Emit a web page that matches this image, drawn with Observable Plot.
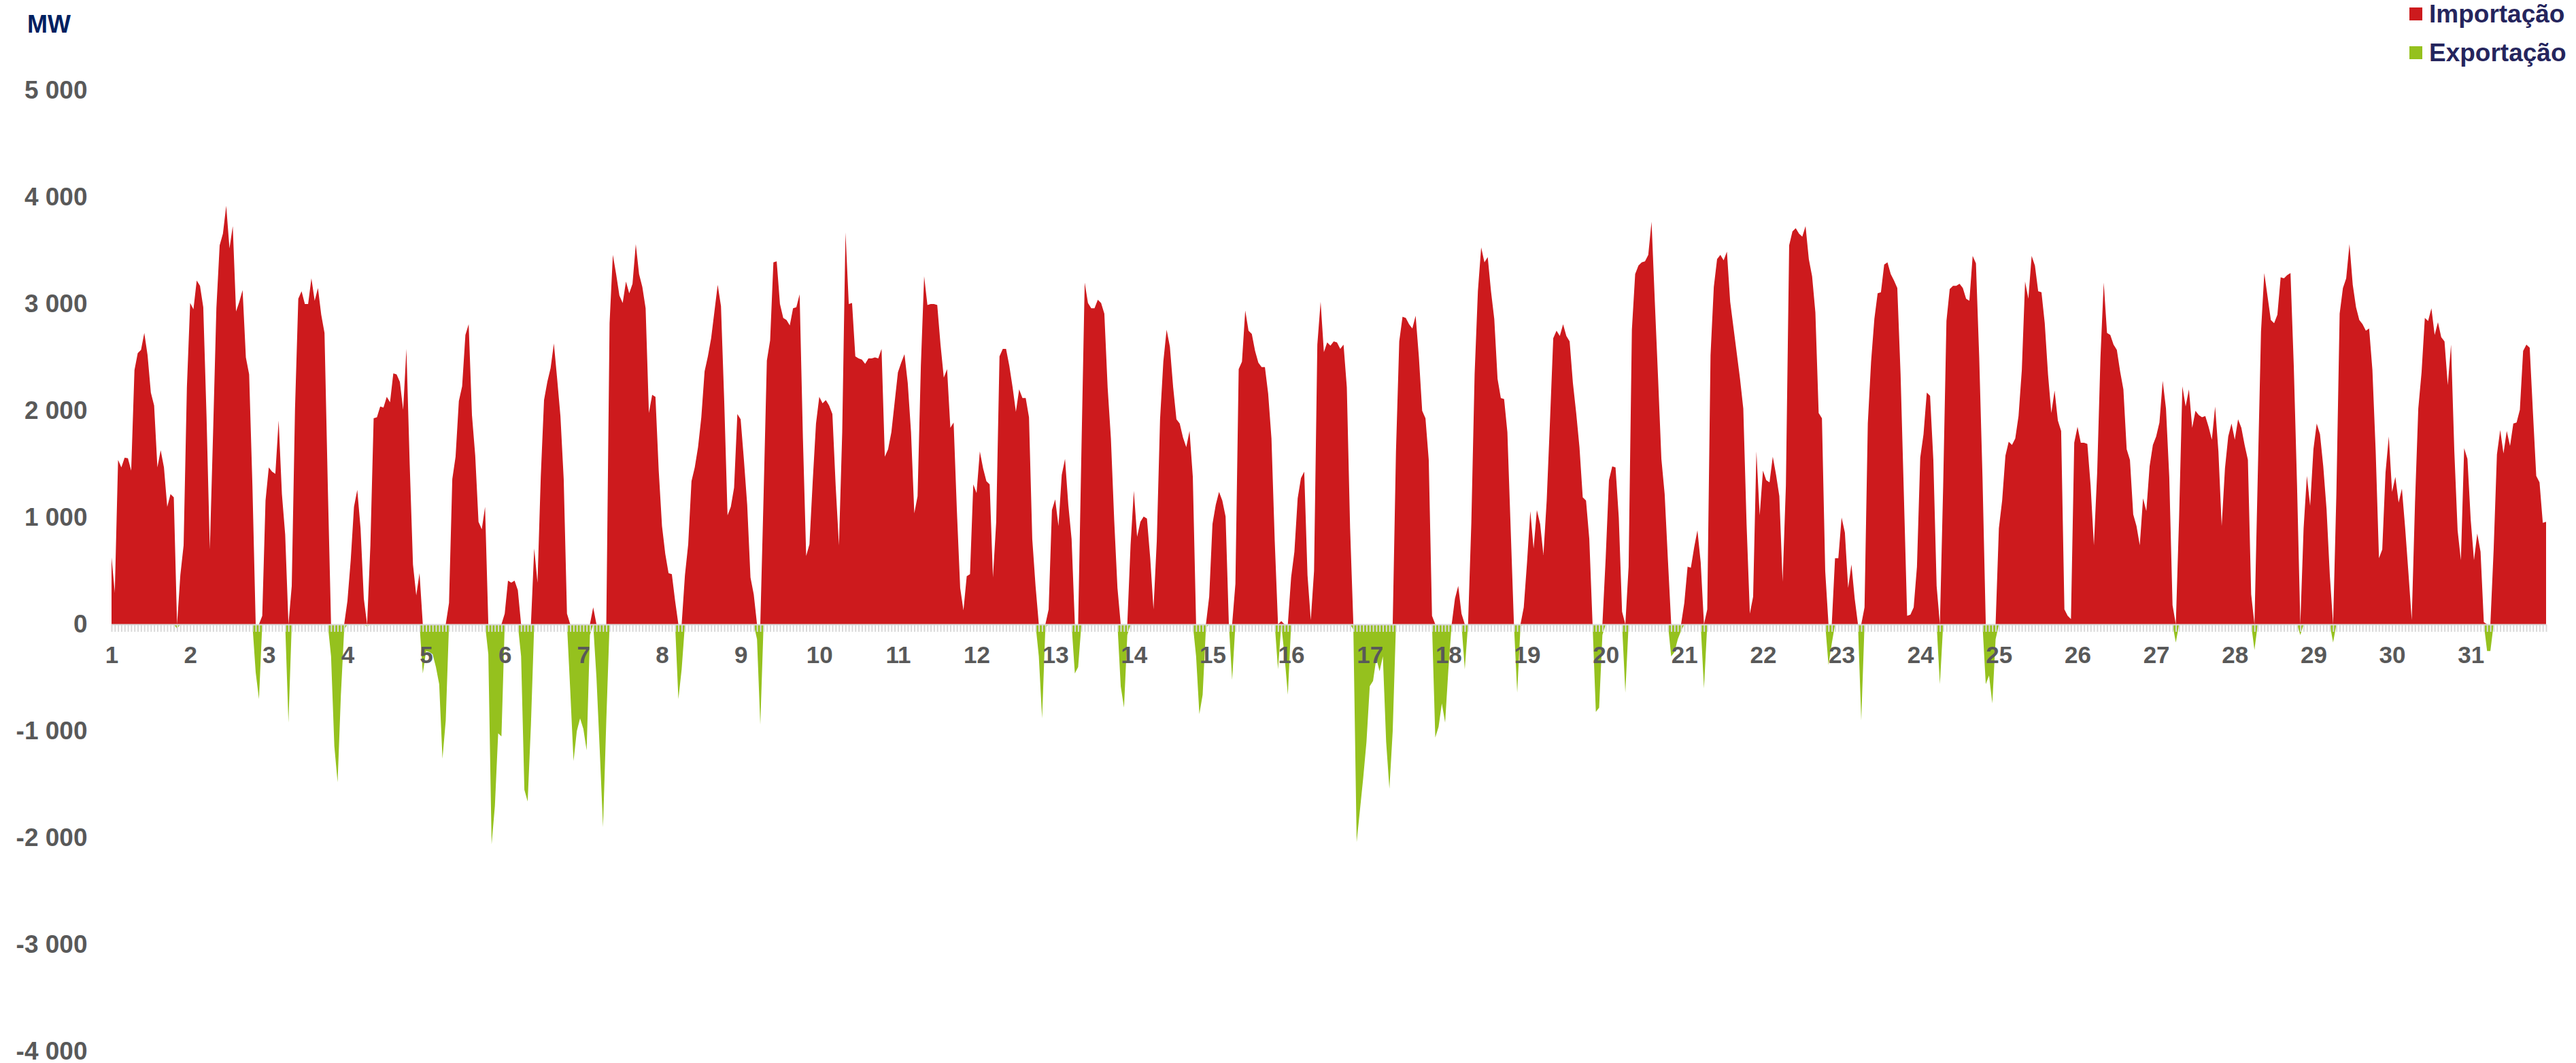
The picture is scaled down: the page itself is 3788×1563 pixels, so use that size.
<!DOCTYPE html>
<html>
<head>
<meta charset="utf-8">
<script src="https://cdn.jsdelivr.net/npm/d3@7"></script>
<script src="https://cdn.jsdelivr.net/npm/@observablehq/plot@0.6"></script>
<style>
  html, body { margin: 0; padding: 0; background: #ffffff; overflow: hidden; }
  #wrap { position: relative; width: 3788px; height: 1563px; font-family: "Liberation Sans", Arial, sans-serif; font-weight: bold; }
  #header { position: relative; width: 3788px; height: 100px; }
  .mw { position: absolute; left: 40px; top: 18px; font-size: 36px; line-height: 36px; color: #002060; }
  .leg { position: absolute; left: 3543px; font-size: 37px; line-height: 37px; color: #25255d; display: flex; align-items: center; white-space: nowrap; }
  .sw { width: 19px; height: 19px; margin-right: 10px; }
  #chart svg { display: block; }
</style>
</head>
<body>
<div id="wrap">
  <div id="header"></div>
  <div id="chart"></div>
</div>
<script>
// Net hourly interchange (MW): positive = importação, negative = exportação
const day01 = [628, 300, 1540, 1470, 1560, 1556, 1440, 2380, 2540, 2570, 2730, 2520, 2170, 2050, 1470, 1630, 1470, 1100, 1220, 1190, -40, 460, 740, 2220];
const day02 = [3010, 2950, 3220, 3170, 2970, 1940, 700, 1800, 2960, 3550, 3660, 3920, 3520, 3730, 2930, 3020, 3130, 2500, 2340, 1300, -450, -700, 80, 1160];
const day03 = [1470, 1430, 1410, 1910, 1220, 840, -920, 360, 2020, 3050, 3120, 3000, 3000, 3240, 3030, 3150, 2900, 2730, 1300, -300, -1140, -1480, -660, -50];
const day04 = [220, 600, 1100, 1260, 900, 240, -20, 740, 1930, 1940, 2040, 2030, 2130, 2080, 2350, 2340, 2270, 2010, 2580, 1500, 560, 270, 480, -460];
const day05 = [-250, -260, -280, -400, -560, -1260, -900, 200, 1360, 1570, 2090, 2230, 2710, 2810, 1960, 1580, 960, 890, 1100, -280, -2060, -1700, -1020, -1050];
const day06 = [100, 410, 390, 410, 320, -300, -1550, -1660, -940, 710, 390, 1380, 2100, 2270, 2400, 2630, 2300, 1950, 1360, 100, -620, -1280, -1000, -880];
const day07 = [-980, -1180, -100, 160, -500, -1180, -1900, -900, 2820, 3460, 3280, 3080, 3010, 3210, 3100, 3190, 3560, 3280, 3160, 2960, 1980, 2150, 2130, 1440];
const day08 = [920, 660, 480, 470, 220, -700, -420, 460, 750, 1340, 1470, 1660, 1940, 2370, 2510, 2680, 2930, 3180, 2980, 2080, 1020, 1100, 1280, 1970];
const day09 = [1920, 1540, 1120, 440, 280, -140, -940, 1200, 2470, 2660, 3390, 3400, 3000, 2870, 2850, 2800, 2960, 2970, 3090, 1750, 640, 750, 1340, 1880];
const day10 = [2130, 2070, 2100, 2050, 1970, 1300, 740, 1800, 3670, 3000, 3010, 2510, 2490, 2480, 2440, 2490, 2490, 2500, 2490, 2580, 1570, 1640, 1800, 2080];
const day11 = [2360, 2450, 2530, 2260, 1800, 1040, 1200, 2420, 3260, 2990, 3000, 3000, 2990, 2620, 2310, 2390, 1840, 1890, 1060, 340, 130, 450, 470, 1310];
const day12 = [1230, 1620, 1460, 1340, 1310, 440, 960, 2510, 2580, 2580, 2420, 2220, 1990, 2200, 2120, 2120, 1940, 800, 360, -300, -880, -30, 140, 1070];
const day13 = [1170, 920, 1400, 1550, 1120, 800, -460, -400, 1620, 3200, 3010, 2960, 2960, 3040, 3010, 2910, 2220, 1740, 980, 340, -580, -780, -100, 740];
const day14 = [1250, 820, 960, 1010, 990, 620, 140, 780, 1920, 2460, 2760, 2600, 2220, 1920, 1880, 1750, 1660, 1810, 1380, -300, -840, -660, -30, 260];
const day15 = [940, 1120, 1240, 1160, 1010, 0, -520, 380, 2390, 2460, 2940, 2750, 2720, 2560, 2450, 2410, 2410, 2160, 1740, 780, -420, 30, -300, -660];
const day16 = [440, 680, 1180, 1370, 1430, 460, 40, 500, 2620, 3020, 2550, 2640, 2610, 2650, 2640, 2580, 2620, 2220, 900, -50, -2040, -1740, -1440, -1100];
const day17 = [-580, -530, -320, -440, -300, -1100, -1540, -1000, 1620, 2650, 2880, 2870, 2810, 2770, 2890, 2500, 2000, 1930, 1540, 80, -1060, -960, -740, -920];
const day18 = [-420, 0, 240, 360, 100, -420, 0, 950, 2340, 3120, 3530, 3390, 3440, 3120, 2860, 2300, 2120, 2110, 1800, 900, 0, -640, -20, 160];
const day19 = [580, 1060, 710, 1070, 940, 650, 1160, 1900, 2680, 2750, 2700, 2810, 2700, 2650, 2260, 1980, 1660, 1190, 1160, 800, 0, -820, -780, -100];
const day20 = [620, 1350, 1480, 1470, 1000, 120, -640, 540, 2760, 3280, 3360, 3390, 3400, 3460, 3770, 3020, 2300, 1550, 1220, 600, -300, -260, -140, -60];
const day21 = [200, 540, 530, 720, 880, 580, -600, 140, 2520, 3160, 3420, 3460, 3410, 3490, 3020, 2780, 2540, 2300, 2020, 940, 100, 260, 1620, 1020];
const day22 = [1440, 1350, 1330, 1570, 1400, 1200, 400, 1300, 3550, 3680, 3710, 3660, 3630, 3730, 3420, 3260, 2920, 1980, 1930, 500, -380, -180, 620, 620];
const day23 = [1000, 860, 340, 560, 240, 0, -900, 160, 1880, 2460, 2860, 3100, 3110, 3370, 3390, 3280, 3220, 3150, 2340, 1220, 80, 90, 160, 540];
const day24 = [1560, 1780, 2170, 2140, 1540, 360, -560, 1300, 2840, 3140, 3170, 3170, 3190, 3150, 3050, 3030, 3450, 3380, 2500, 1380, -560, -480, -740, -140];
const day25 = [900, 1160, 1580, 1710, 1680, 1740, 1950, 2380, 3210, 3050, 3450, 3360, 3120, 3110, 2820, 2340, 1980, 2190, 1910, 1810, 140, 80, 50, 1700];
const day26 = [1850, 1700, 1700, 1690, 1300, 740, 1420, 2500, 3200, 2730, 2710, 2620, 2570, 2370, 2200, 1640, 1540, 1030, 920, 740, 1180, 1060, 1480, 1680];
const day27 = [1760, 1890, 2280, 2020, 1380, 180, -170, 1000, 2230, 2040, 2200, 1840, 2000, 1960, 1940, 1950, 1850, 1730, 2040, 1620, 920, 1460, 1760, 1880];
const day28 = [1730, 1920, 1840, 1680, 1540, 280, -240, 1380, 2740, 3290, 3070, 2850, 2820, 2900, 3250, 3240, 3270, 3290, 2420, 1300, -100, 900, 1390, 1110];
const day29 = [1640, 1880, 1780, 1480, 1080, 460, -170, 1220, 2910, 3150, 3240, 3560, 3180, 2970, 2850, 2810, 2750, 2770, 2380, 1620, 620, 700, 1420, 1760];
const day30 = [1240, 1380, 1140, 1270, 900, 480, 40, 1140, 2020, 2360, 2870, 2840, 2960, 2710, 2830, 2690, 2650, 2240, 2620, 1620, 880, 600, 1650, 1550];
const day31 = [980, 600, 850, 680, 20, -250, -250, 700, 1590, 1820, 1600, 1810, 1670, 1880, 1890, 2010, 2560, 2620, 2590, 1980, 1390, 1330, 950, 960];

const dayLabels = d3.range(1, 32);
const yTicks = d3.range(-4000, 5001, 1000);
const seriesNames = ["Importação", "Exportação"];
const seriesColors = ["#cd1a1d", "#95c11e"];
const unitLabel = "MW";

const net = [day01, day02, day03, day04, day05, day06, day07, day08, day09, day10,
  day11, day12, day13, day14, day15, day16, day17, day18, day19, day20,
  day21, day22, day23, day24, day25, day26, day27, day28, day29, day30, day31].flat();
const rows = net.map((v, i) => ({h: i, imp: Math.max(v, 0), exp: Math.min(v, 0)}));
const hours = d3.range(net.length);
const fmt = d => (d < 0 ? "-" : "") + String(Math.abs(d)).replace(/\B(?=(\d{3})+(?!\d))/g, " ");

// Header: unit label + legend
const header = document.getElementById("header");
const mw = document.createElement("div");
mw.className = "mw"; mw.textContent = unitLabel;
header.appendChild(mw);
seriesNames.forEach((name, i) => {
  const row = document.createElement("div");
  row.className = "leg";
  row.style.top = (2 + i * 57) + "px";
  const sw = document.createElement("div");
  sw.className = "sw"; sw.style.background = seriesColors[i];
  const tx = document.createElement("span");
  tx.textContent = name;
  row.appendChild(sw); row.appendChild(tx);
  header.appendChild(row);
});

const chart = Plot.plot({
  width: 3788,
  height: 1463,
  marginTop: 33,
  marginBottom: 17,
  marginLeft: 164,
  marginRight: 44,
  x: {domain: [0, net.length - 1], axis: null},
  y: {domain: [-4000, 5000], axis: null},
  style: {fontFamily: "'Liberation Sans', Arial, sans-serif", fontWeight: "bold", background: "#ffffff", overflow: "visible"},
  marks: [
    Plot.areaY(rows, {x: "h", y: "imp", fill: seriesColors[0]}),
    Plot.areaY(rows, {x: "h", y: "exp", fill: seriesColors[1]}),
    Plot.ruleY([0], {x1: () => 0, x2: () => net.length - 1, stroke: "#d9d9d9", strokeWidth: 2}),
    Plot.ruleX(hours, {x: d => d, y1: () => 0, y2: () => -70, stroke: "#d9d9d9", strokeWidth: 2}),
    Plot.text(yTicks, {y: d => d, frameAnchor: "left", dx: -36, textAnchor: "end", text: fmt, fill: "#595959", fontSize: 37, fontWeight: "bold"}),
    Plot.text(dayLabels, {x: d => (d - 1) * 24, y: () => 0, dy: 45, text: d => String(d), fill: "#595959", fontSize: 35, fontWeight: "bold"})
  ]
});
document.getElementById("chart").appendChild(chart);
</script>
</body>
</html>
